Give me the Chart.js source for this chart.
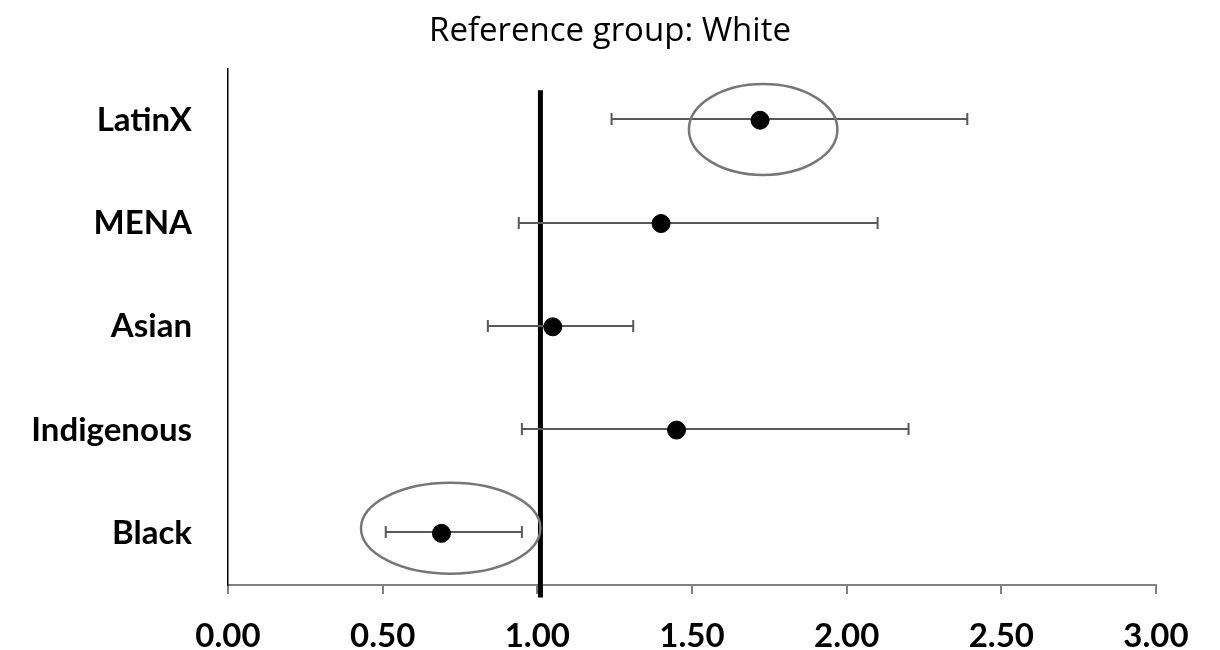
<!DOCTYPE html>
<html>
<head>
<meta charset="utf-8">
<title>Reference group: White</title>
<script src="https://cdn.jsdelivr.net/npm/chart.js@4.4.0/dist/chart.umd.min.js"></script>
<style>
  html, body { margin: 0; padding: 0; background: #fff; }
  #wrap { width: 1220px; height: 650px; }
</style>
</head>
<body>
<div id="wrap"><canvas id="forest"></canvas></div>
<script>
// Data
const categories = ['LatinX', 'MENA', 'Asian', 'Indigenous', 'Black'];
const oddsRatio = [1.72, 1.40, 1.05, 1.45, 0.69];
const ciLower = [1.24, 0.94, 0.84, 0.95, 0.51];
const ciUpper = [2.39, 2.10, 1.31, 2.20, 0.95];
const xTicks = [0, 0.5, 1, 1.5, 2, 2.5, 3];
const referenceValue = 1.01;

// circled groups and the x range the circle covers
const circledGroups = ['LatinX', 'Black'];
const circleFrom = [1.49, 0.43];
const circleTo = [1.97, 1.01];

const points = categories.map((c, i) => ({ x: oddsRatio[i], y: c }));

// error bars, reference line and circles drawn with the chart's own scales
const forestExtras = {
  id: 'forestExtras',
  beforeDatasetsDraw(chart) {
    const { ctx, scales: { x, y } } = chart;
    ctx.save();

    // thick reference line
    ctx.strokeStyle = '#000';
    ctx.lineWidth = 5;
    ctx.beginPath();
    ctx.moveTo(x.getPixelForValue(referenceValue), y.getPixelForValue(-0.29));
    ctx.lineTo(x.getPixelForValue(referenceValue), y.getPixelForValue(4.62));
    ctx.stroke();

    // confidence intervals
    ctx.strokeStyle = '#595959';
    ctx.lineWidth = 2;
    categories.forEach((c, i) => {
      const yy = Math.round(y.getPixelForValue(i)) - 1;
      const x1 = x.getPixelForValue(ciLower[i]);
      const x2 = x.getPixelForValue(ciUpper[i]);
      ctx.beginPath();
      ctx.moveTo(x1, yy);
      ctx.lineTo(x2, yy);
      ctx.moveTo(x1, yy - 6);
      ctx.lineTo(x1, yy + 6);
      ctx.moveTo(x2, yy - 6);
      ctx.lineTo(x2, yy + 6);
      ctx.stroke();
    });
    ctx.restore();
  },
  afterDatasetsDraw(chart) {
    const { ctx, scales: { x, y } } = chart;
    ctx.save();
    ctx.strokeStyle = '#767676';
    ctx.lineWidth = 2.5;
    circledGroups.forEach((g, k) => {
      const idx = categories.indexOf(g);
      const cx = (x.getPixelForValue(circleFrom[k]) + x.getPixelForValue(circleTo[k])) / 2;
      const rx = (x.getPixelForValue(circleTo[k]) - x.getPixelForValue(circleFrom[k])) / 2;
      const shift = idx === 0 ? 0.09 : -0.05;
      const cy = y.getPixelForValue(idx + shift);
      const ry = y.getPixelForValue(idx + 0.44) - y.getPixelForValue(idx);
      ctx.beginPath();
      ctx.ellipse(cx, cy, rx, Math.abs(ry), 0, 0, Math.PI * 2);
      ctx.stroke();
    });
    ctx.restore();
  }
};

new Chart(document.getElementById('forest'), {
  type: 'scatter',
  data: {
    datasets: [{
      data: points,
      backgroundColor: '#000',
      borderColor: '#000',
      pointRadius: 9,
      pointHoverRadius: 9
    }]
  },
  options: {
    responsive: true,
    maintainAspectRatio: false,
    animation: false,
    layout: { padding: 0 },
    plugins: {
      legend: { display: false },
      tooltip: { enabled: false },
      title: {
        display: true,
        text: 'Reference group: White',
        color: '#000',
        font: { family: 'Open Sans', size: 33, weight: 'normal', lineHeight: 1.2 },
        padding: { top: 12, bottom: 17 }
      }
    },
    scales: {
      x: {
        type: 'linear',
        min: 0,
        max: 3,
        afterBuildTicks: (scale) => { scale.ticks = xTicks.map(v => ({ value: v })); },
        afterFit: (scale) => { scale.height = 65; scale.paddingRight = 64; },
        ticks: {
          color: '#000',
          padding: 23,
          maxRotation: 0,
          font: { family: 'Lato', size: 33, weight: 'bold' },
          callback: (v) => Number(v).toFixed(2)
        },
        grid: {
          drawOnChartArea: false,
          drawTicks: true,
          tickLength: 9,
          color: '#808080',
          lineWidth: 2
        },
        border: { color: '#808080', width: 2 }
      },
      y: {
        type: 'category',
        labels: categories,
        offset: true,
        afterFit: (scale) => { scale.width = 228; },
        ticks: {
          color: '#000',
          padding: 28,
          font: { family: 'Lato', size: 33, weight: 'bold' }
        },
        grid: { display: false },
        border: { color: '#000', width: 1.5 }
      }
    }
  },
  plugins: [forestExtras]
});
</script>
</body>
</html>
